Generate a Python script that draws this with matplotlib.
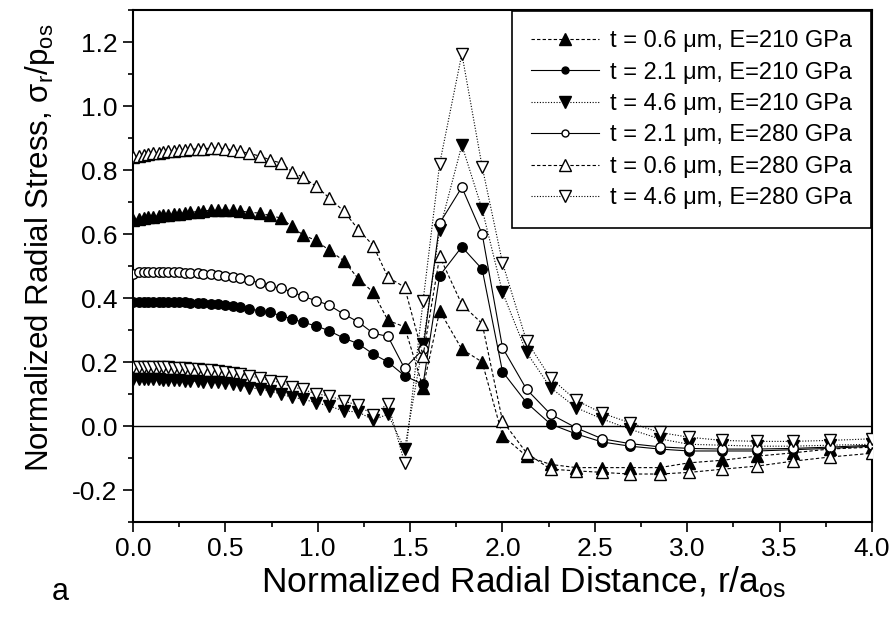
import matplotlib
matplotlib.use("Agg")
import matplotlib.pyplot as plt
from matplotlib.ticker import MultipleLocator

plt.rcParams["font.family"] = ["Liberation Sans", "DejaVu Sans"]
plt.rcParams["mathtext.fontset"] = "custom"
plt.rcParams["mathtext.rm"] = "Liberation Sans"
plt.rcParams["mathtext.it"] = "Liberation Sans:italic"

# normalized radial distance r/a_os (mesh nodes)
r = [0.00, 0.03, 0.06, 0.08, 0.11, 0.14, 0.16, 0.19, 0.22, 0.25, 0.28, 0.31,
     0.35, 0.38, 0.42, 0.46, 0.50, 0.54, 0.58,
     0.63, 0.69, 0.74, 0.80, 0.86, 0.92, 0.99,
     1.06, 1.14, 1.22, 1.30, 1.38, 1.47, 1.57, 1.66,
     1.78, 1.89, 2.00, 2.13, 2.26, 2.40, 2.54, 2.69,
     2.85, 3.01, 3.19, 3.38, 3.57, 3.77, 4.00]

# t = 0.6 um, E = 210 GPa
s_06_210 = [0.645, 0.648, 0.650, 0.652, 0.654, 0.656, 0.658, 0.660, 0.662, 0.664, 0.666, 0.668,
            0.670, 0.672, 0.674, 0.675, 0.675, 0.674, 0.672,
            0.668, 0.665, 0.658, 0.650, 0.624, 0.597, 0.580,
            0.550, 0.517, 0.460, 0.418, 0.330, 0.310, 0.120, 0.360,
            0.240, 0.200, -0.030, -0.094, -0.120, -0.130, -0.130, -0.130,
            -0.130, -0.115, -0.107, -0.094, -0.084, -0.072, -0.066]
# t = 2.1 um, E = 210 GPa
s_21_210 = [0.388, 0.388, 0.388, 0.388, 0.388, 0.388, 0.387, 0.387, 0.387, 0.386, 0.386, 0.385,
            0.384, 0.383, 0.382, 0.380, 0.378, 0.375, 0.372,
            0.366, 0.360, 0.355, 0.345, 0.335, 0.324, 0.313,
            0.298, 0.275, 0.257, 0.225, 0.200, 0.157, 0.130, 0.470,
            0.560, 0.490, 0.170, 0.073, 0.006, -0.025, -0.050, -0.063,
            -0.072, -0.078, -0.078, -0.078, -0.074, -0.070, -0.063]
# t = 4.6 um, E = 210 GPa
s_46_210 = [0.147, 0.147, 0.147, 0.147, 0.146, 0.146, 0.145, 0.145, 0.144, 0.143, 0.142, 0.141,
            0.140, 0.139, 0.138, 0.136, 0.134, 0.132, 0.129,
            0.120, 0.115, 0.110, 0.100, 0.090, 0.084, 0.073,
            0.063, 0.047, 0.044, 0.019, 0.037, -0.072, 0.257, 0.614,
            0.878, 0.677, 0.418, 0.230, 0.120, 0.057, 0.022, -0.010,
            -0.040, -0.057, -0.060, -0.063, -0.063, -0.060, -0.057]
# t = 2.1 um, E = 280 GPa
s_21_280 = [0.476, 0.482, 0.482, 0.482, 0.482, 0.482, 0.481, 0.481, 0.480, 0.480, 0.479, 0.478,
            0.477, 0.476, 0.474, 0.472, 0.470, 0.467, 0.463,
            0.455, 0.447, 0.438, 0.430, 0.420, 0.405, 0.392,
            0.378, 0.350, 0.325, 0.290, 0.280, 0.180, 0.240, 0.634,
            0.746, 0.600, 0.245, 0.115, 0.037, -0.006, -0.040, -0.055,
            -0.065, -0.070, -0.072, -0.072, -0.070, -0.066, -0.060]
# t = 0.6 um, E = 280 GPa
s_06_280 = [0.840, 0.845, 0.848, 0.850, 0.852, 0.854, 0.856, 0.858, 0.860, 0.862, 0.864, 0.865,
            0.866, 0.867, 0.868, 0.868, 0.866, 0.863, 0.858,
            0.852, 0.843, 0.832, 0.822, 0.795, 0.777, 0.750,
            0.714, 0.672, 0.614, 0.564, 0.465, 0.434, 0.220, 0.530,
            0.380, 0.320, 0.016, -0.084, -0.135, -0.140, -0.145, -0.150,
            -0.150, -0.145, -0.135, -0.125, -0.110, -0.097, -0.085]
# t = 4.6 um, E = 280 GPa
s_46_280 = [0.183, 0.185, 0.185, 0.185, 0.185, 0.184, 0.184, 0.183, 0.182, 0.181, 0.180, 0.179,
            0.178, 0.176, 0.174, 0.172, 0.170, 0.167, 0.163,
            0.157, 0.150, 0.142, 0.136, 0.122, 0.115, 0.100,
            0.095, 0.078, 0.065, 0.034, 0.070, -0.115, 0.390, 0.820,
            1.163, 0.810, 0.510, 0.266, 0.150, 0.080, 0.040, 0.010,
            -0.020, -0.035, -0.045, -0.048, -0.048, -0.045, -0.040]

# (values, label, marker, filled, linestyle)
series = [
    (s_06_210, "t = 0.6 \u03bcm, E=210 GPa", "^", True, (0, (3, 2))),
    (s_21_210, "t = 2.1 \u03bcm, E=210 GPa", "o", True, "-"),
    (s_46_210, "t = 4.6 \u03bcm, E=210 GPa", "v", True, (0, (1, 1.5))),
    (s_21_280, "t = 2.1 \u03bcm, E=280 GPa", "o", False, "-"),
    (s_06_280, "t = 0.6 \u03bcm, E=280 GPa", "^", False, (0, (3, 2))),
    (s_46_280, "t = 4.6 \u03bcm, E=280 GPa", "v", False, (0, (1, 1.5))),
]

fig = plt.figure(figsize=(8.95, 6.26), dpi=100)
ax = fig.add_axes([0.1486, 0.1661, 0.8257, 0.8179])

ax.axhline(0, color="black", lw=1.0, zorder=1)

for vals, label, marker, filled, ls in series:
    ms = 6.8 if marker == "o" else 8.5
    ax.plot(r, vals, color="black", lw=0.8, ls=ls, marker=marker, ms=ms,
            markerfacecolor="black" if filled else "white",
            markeredgecolor="black", markeredgewidth=1.0, label=label, zorder=3)

ax.set_xlim(0, 4.0)
ax.set_ylim(-0.3, 1.3)
ax.xaxis.set_minor_locator(MultipleLocator(0.25))
ax.yaxis.set_minor_locator(MultipleLocator(0.1))
ax.set_xticks([0, 0.5, 1.0, 1.5, 2.0, 2.5, 3.0, 3.5, 4.0])
ax.set_xticklabels(["0.0", "0.5", "1.0", "1.5", "2.0", "2.5", "3.0", "3.5", "4.0"])
ax.set_yticks([-0.2, 0.0, 0.2, 0.4, 0.6, 0.8, 1.0, 1.2])
ax.set_yticklabels(["-0.2", "0.0", "0.2", "0.4", "0.6", "0.8", "1.0", "1.2"])

ax.tick_params(which="major", direction="out", length=7, width=1.2, labelsize=19, pad=4)
ax.tick_params(which="minor", direction="out", length=3.5, width=1.2)
for sp in ax.spines.values():
    sp.set_linewidth(1.5)

ax.set_xlabel(r"Normalized Radial Distance, r/a$\mathregular{_{os}}$", fontsize=25.5)
ax.set_ylabel(r"Normalized Radial Stress, $\mathregular{\sigma_r/p_{os}}$", fontsize=22.5)
ax.xaxis.set_label_coords(0.528, -0.082)
ax.yaxis.set_label_coords(-0.103, 0.535)

leg = ax.legend(loc="upper right", bbox_to_anchor=(1.0, 1.0), fontsize=17,
                frameon=True, fancybox=False, edgecolor="black", framealpha=1,
                borderaxespad=0.05, handlelength=2.9, handletextpad=0.45,
                labelspacing=0.4, borderpad=0.8)
leg.get_frame().set_linewidth(1.2)
for h in leg.legend_handles:
    h.set_markersize(5 if h.get_marker() == "o" else 8.5)

fig.text(0.058, 0.042, "a", fontsize=22)

fig.savefig("out.png", dpi=100)
